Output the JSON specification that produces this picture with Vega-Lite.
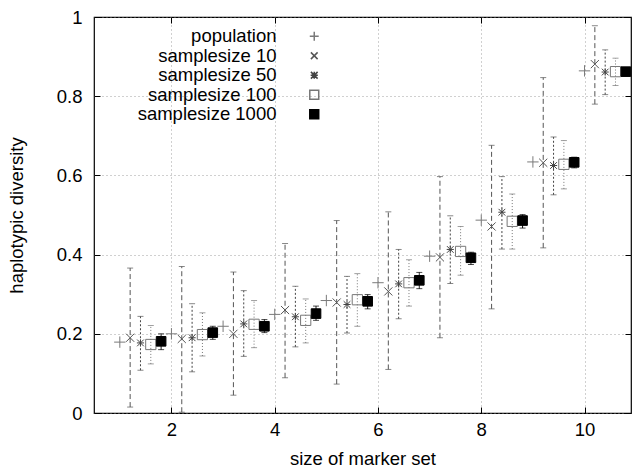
{
  "$schema": "https://vega.github.io/schema/vega-lite/v6.json",
  "width": 537,
  "height": 396,
  "autosize": {"type": "none"},
  "padding": {"left": 94, "top": 17, "right": 2, "bottom": 56},
  "config": {
    "font": "Liberation Sans",
    "view": {"stroke": "black", "strokeWidth": 1.2},
    "axis": {
      "labelFontSize": 18.5,
      "titleFontSize": 18.5,
      "labelColor": "black",
      "titleColor": "black",
      "titleFontWeight": "normal",
      "domain": false,
      "tickColor": "black",
      "tickSize": -6,
      "gridDash": [1, 3],
      "gridColor": "#888888",
      "gridOpacity": 1,
      "gridWidth": 0.8
    },
    "legend": {
      "labelFontSize": 18.5,
      "labelColor": "black",
      "labelFont": "Liberation Sans",
      "symbolSize": 80,
      "rowPadding": 0.5,
      "padding": 0
    }
  },
  "data": {
    "values": [
      {"series": "population", "x": 1, "y": 0.179},
      {"series": "population", "x": 2, "y": 0.2},
      {"series": "population", "x": 3, "y": 0.219},
      {"series": "population", "x": 4, "y": 0.249},
      {"series": "population", "x": 5, "y": 0.284},
      {"series": "population", "x": 6, "y": 0.329},
      {"series": "population", "x": 7, "y": 0.396},
      {"series": "population", "x": 8, "y": 0.487},
      {"series": "population", "x": 9, "y": 0.634},
      {"series": "population", "x": 10, "y": 0.864},
      {"series": "samplesize 10", "x": 1.2, "y": 0.19, "lo": 0.015, "hi": 0.366},
      {"series": "samplesize 10", "x": 2.2, "y": 0.187, "lo": 0.002, "hi": 0.37},
      {"series": "samplesize 10", "x": 3.2, "y": 0.2, "lo": 0.045, "hi": 0.356},
      {"series": "samplesize 10", "x": 4.2, "y": 0.26, "lo": 0.089, "hi": 0.428},
      {"series": "samplesize 10", "x": 5.2, "y": 0.279, "lo": 0.073, "hi": 0.486},
      {"series": "samplesize 10", "x": 6.2, "y": 0.307, "lo": 0.11, "hi": 0.508},
      {"series": "samplesize 10", "x": 7.2, "y": 0.393, "lo": 0.19, "hi": 0.597},
      {"series": "samplesize 10", "x": 8.2, "y": 0.471, "lo": 0.263, "hi": 0.676},
      {"series": "samplesize 10", "x": 9.2, "y": 0.632, "lo": 0.417, "hi": 0.847},
      {"series": "samplesize 10", "x": 10.2, "y": 0.881, "lo": 0.78, "hi": 0.978},
      {"series": "samplesize 50", "x": 1.4, "y": 0.177, "lo": 0.108, "hi": 0.244},
      {"series": "samplesize 50", "x": 2.4, "y": 0.19, "lo": 0.104, "hi": 0.276},
      {"series": "samplesize 50", "x": 3.4, "y": 0.225, "lo": 0.143, "hi": 0.309},
      {"series": "samplesize 50", "x": 4.4, "y": 0.243, "lo": 0.167, "hi": 0.32},
      {"series": "samplesize 50", "x": 5.4, "y": 0.274, "lo": 0.202, "hi": 0.345},
      {"series": "samplesize 50", "x": 6.4, "y": 0.326, "lo": 0.238, "hi": 0.413},
      {"series": "samplesize 50", "x": 7.4, "y": 0.413, "lo": 0.327, "hi": 0.498},
      {"series": "samplesize 50", "x": 8.4, "y": 0.507, "lo": 0.414, "hi": 0.597},
      {"series": "samplesize 50", "x": 9.4, "y": 0.625, "lo": 0.551, "hi": 0.697},
      {"series": "samplesize 50", "x": 10.4, "y": 0.861, "lo": 0.804, "hi": 0.917},
      {"series": "samplesize 100", "x": 1.6, "y": 0.173, "lo": 0.124, "hi": 0.221},
      {"series": "samplesize 100", "x": 2.6, "y": 0.198, "lo": 0.144, "hi": 0.253},
      {"series": "samplesize 100", "x": 3.6, "y": 0.224, "lo": 0.165, "hi": 0.284},
      {"series": "samplesize 100", "x": 4.6, "y": 0.234, "lo": 0.177, "hi": 0.288},
      {"series": "samplesize 100", "x": 5.6, "y": 0.286, "lo": 0.219, "hi": 0.352},
      {"series": "samplesize 100", "x": 6.6, "y": 0.329, "lo": 0.27, "hi": 0.387},
      {"series": "samplesize 100", "x": 7.6, "y": 0.408, "lo": 0.348, "hi": 0.471},
      {"series": "samplesize 100", "x": 8.6, "y": 0.484, "lo": 0.414, "hi": 0.553},
      {"series": "samplesize 100", "x": 9.6, "y": 0.628, "lo": 0.566, "hi": 0.688},
      {"series": "samplesize 100", "x": 10.6, "y": 0.862, "lo": 0.827, "hi": 0.896},
      {"series": "samplesize 1000", "x": 1.8, "y": 0.181, "lo": 0.16, "hi": 0.2},
      {"series": "samplesize 1000", "x": 2.8, "y": 0.203, "lo": 0.186, "hi": 0.219},
      {"series": "samplesize 1000", "x": 3.8, "y": 0.219, "lo": 0.203, "hi": 0.236},
      {"series": "samplesize 1000", "x": 4.8, "y": 0.251, "lo": 0.234, "hi": 0.27},
      {"series": "samplesize 1000", "x": 5.8, "y": 0.282, "lo": 0.263, "hi": 0.299},
      {"series": "samplesize 1000", "x": 6.8, "y": 0.335, "lo": 0.314, "hi": 0.355},
      {"series": "samplesize 1000", "x": 7.8, "y": 0.392, "lo": 0.375, "hi": 0.406},
      {"series": "samplesize 1000", "x": 8.8, "y": 0.486, "lo": 0.467, "hi": 0.501},
      {"series": "samplesize 1000", "x": 9.8, "y": 0.633, "lo": 0.619, "hi": 0.646},
      {"series": "samplesize 1000", "x": 10.8, "y": 0.862, "lo": 0.853, "hi": 0.871}
    ]
  },
  "resolve": {"axis": {"x": "independent", "y": "independent"}},
  "layer": [
    {
      "transform": [{"filter": "isValid(datum.lo)"}],
      "mark": {"type": "rule", "strokeWidth": 1},
      "encoding": {
        "x": {"field": "x", "type": "quantitative", "scale": {"domain": [0.5, 10.9], "nice": false, "zero": false},
              "axis": {"orient": "top", "labels": false, "title": null, "grid": false, "values": [2, 4, 6, 8, 10]}},
        "y": {"field": "lo", "type": "quantitative", "scale": {"domain": [0, 1], "nice": false},
              "axis": {"orient": "right", "labels": false, "title": null, "grid": false, "values": [0, 0.2, 0.4, 0.6, 0.8, 1]}},
        "y2": {"field": "hi"},
        "stroke": {"field": "series", "type": "nominal"},
        "strokeDash": {"field": "series", "type": "nominal", "legend": null,
          "scale": {"range": [[5, 3], [1, 2], [1, 0], [2, 2]]}}
      }
    },
    {
      "transform": [{"filter": "isValid(datum.lo)"}],
      "mark": {"type": "tick", "orient": "horizontal", "size": 6, "thickness": 1},
      "encoding": {
        "x": {"field": "x", "type": "quantitative", "axis": null},
        "y": {"field": "lo", "type": "quantitative", "axis": null},
        "color": {"field": "series", "type": "nominal", "legend": null,
          "scale": {"range": ["#555555", "#777777", "#000000", "#555555"]}}
      }
    },
    {
      "transform": [{"filter": "isValid(datum.hi)"}],
      "mark": {"type": "tick", "orient": "horizontal", "size": 6, "thickness": 1},
      "encoding": {
        "x": {"field": "x", "type": "quantitative", "axis": null},
        "y": {"field": "hi", "type": "quantitative", "axis": null},
        "color": {"field": "series", "type": "nominal", "legend": null}
      }
    },
    {
      "mark": {"type": "point", "strokeWidth": 1, "opacity": 1},
      "encoding": {
        "x": {"field": "x", "type": "quantitative",
              "axis": {"title": "size of marker set", "grid": true, "values": [2, 4, 6, 8, 10], "labelPadding": 13, "titlePadding": 11}},
        "y": {"field": "y", "type": "quantitative",
              "axis": {"title": "haplotypic diversity", "grid": true, "values": [0, 0.2, 0.4, 0.6, 0.8, 1], "format": "~g", "labelPadding": 18, "titlePadding": 30}},
        "shape": {"field": "series", "type": "nominal",
          "legend": {"title": null, "orient": "none", "legendX": 211, "legendY": 10, "labelAlign": "right", "labelOffset": -47},
          "scale": {"domain": ["population", "samplesize 10", "samplesize 50", "samplesize 100", "samplesize 1000"],
                    "range": ["M-1,0L1,0M0,-1L0,1", "M-0.75,-0.75L0.75,0.75M-0.75,0.75L0.75,-0.75", "M-0.75,-0.75L0.75,0.75M-0.75,0.75L0.75,-0.75M-0.8,0L0.8,0M0,-0.8L0,0.8", "square", "square"]}},
        "stroke": {"field": "series", "type": "nominal",
          "legend": {"title": null, "orient": "none", "legendX": 211, "legendY": 10, "labelAlign": "right", "labelOffset": -47},
          "scale": {"domain": ["population", "samplesize 10", "samplesize 50", "samplesize 100", "samplesize 1000"],
                    "range": ["#7a7a7a", "#555555", "#444444", "#777777", "#000000"]}},
        "fill": {"field": "series", "type": "nominal",
          "legend": {"title": null, "orient": "none", "legendX": 211, "legendY": 10, "labelAlign": "right", "labelOffset": -47},
          "scale": {"domain": ["population", "samplesize 10", "samplesize 50", "samplesize 100", "samplesize 1000"],
                    "range": ["transparent", "transparent", "transparent", "transparent", "#000000"]}},
        "size": {"field": "series", "type": "nominal", "legend": null,
          "scale": {"range": [130, 80, 64, 64, 80]}}
      }
    }
  ]
}
